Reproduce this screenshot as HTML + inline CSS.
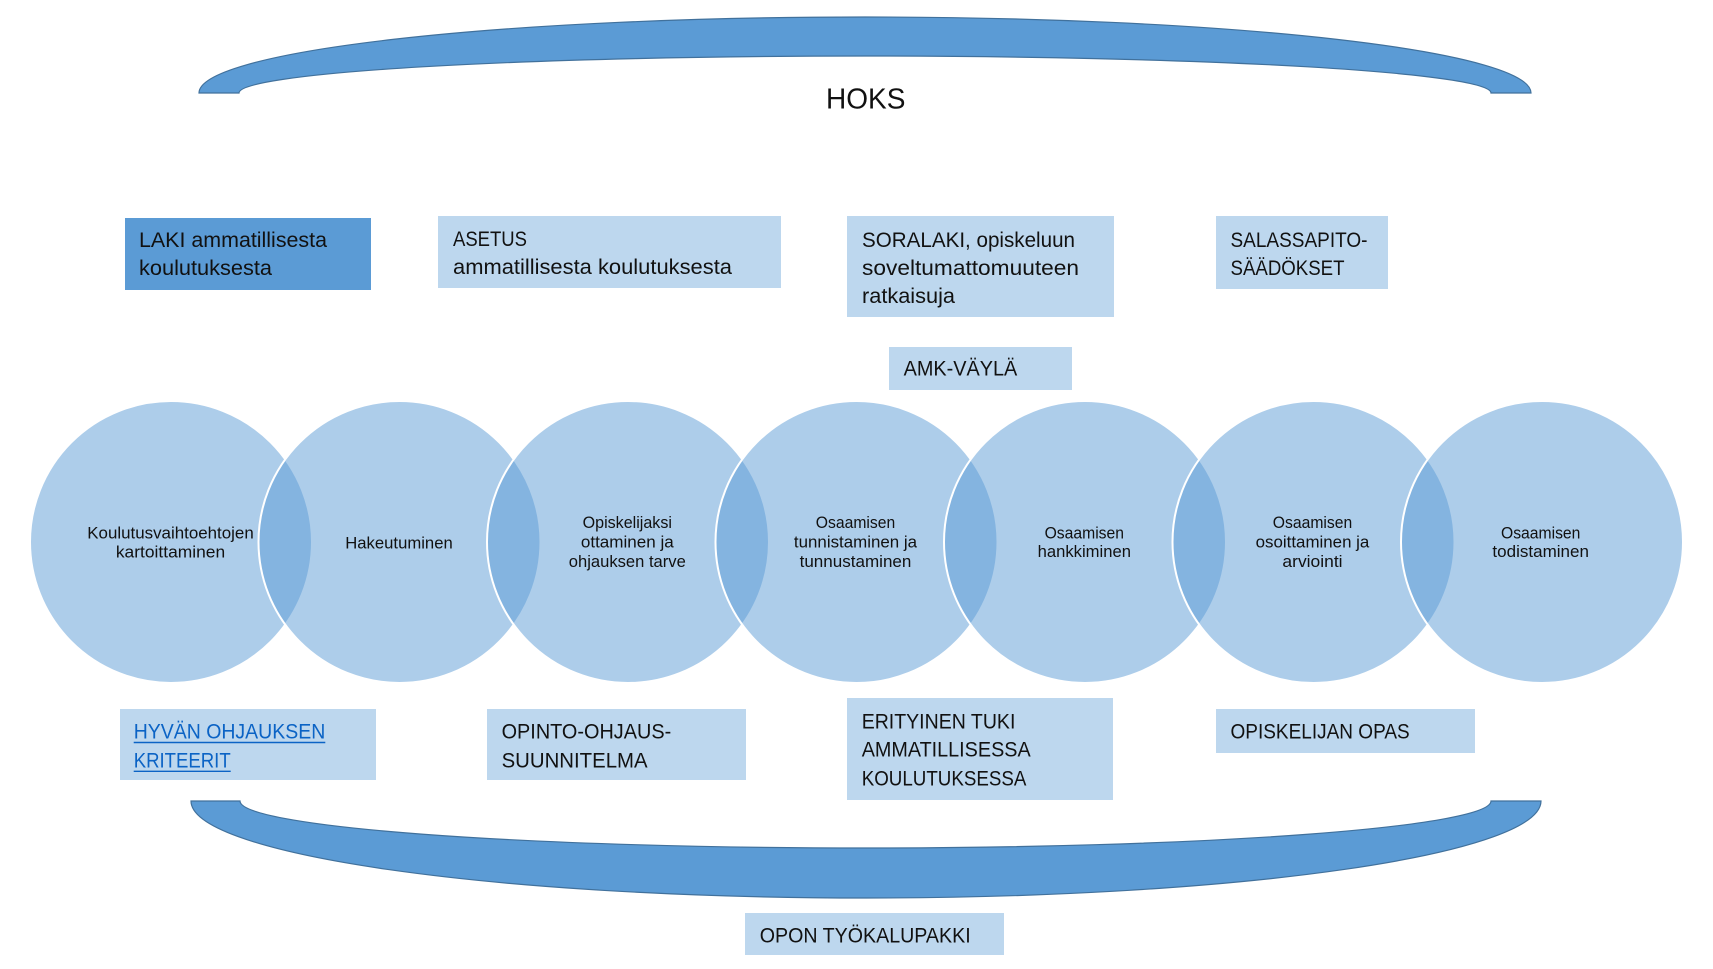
<!DOCTYPE html>
<html>
<head>
<meta charset="utf-8">
<style>
  html,body{margin:0;padding:0;background:#fff;}
  svg{display:block;}
  text{font-family:"Liberation Sans",Arial,sans-serif;fill:#111;}
  .bx{font-size:21.5px;}
  .ct{font-size:16.5px;text-anchor:middle;}
</style>
</head>
<body>
<svg width="1713" height="969" viewBox="0 0 1713 969" xmlns="http://www.w3.org/2000/svg">
  <!-- Top arc -->
  <path d="M199 93 A666 76 0 0 1 1531 93 L1491 93 A626 37 0 0 0 239 93 Z" fill="#5B9BD5" stroke="#41719C" stroke-width="1.2"/>
  <text x="826" y="108.3" style="font-size:28.5px" textLength="79.4" lengthAdjust="spacingAndGlyphs">HOKS</text>

  <!-- Top boxes -->
  <rect x="125" y="218" width="246" height="72" fill="#5B9BD5"/>
  <text class="bx" x="139" y="247" textLength="188" lengthAdjust="spacingAndGlyphs">LAKI ammatillisesta</text>
  <text class="bx" x="139" y="275" textLength="133" lengthAdjust="spacingAndGlyphs">koulutuksesta</text>

  <rect x="438" y="216" width="343" height="72" fill="#BDD7EE"/>
  <text class="bx" x="453" y="246" textLength="74" lengthAdjust="spacingAndGlyphs">ASETUS</text>
  <text class="bx" x="453" y="274" textLength="279" lengthAdjust="spacingAndGlyphs">ammatillisesta koulutuksesta</text>

  <rect x="847" y="216" width="267" height="101" fill="#BDD7EE"/>
  <text class="bx" x="862" y="247" textLength="213" lengthAdjust="spacingAndGlyphs">SORALAKI, opiskeluun</text>
  <text class="bx" x="862" y="275" textLength="217" lengthAdjust="spacingAndGlyphs">soveltumattomuuteen</text>
  <text class="bx" x="862" y="303" textLength="93" lengthAdjust="spacingAndGlyphs">ratkaisuja</text>

  <rect x="1216" y="216" width="172" height="73" fill="#BDD7EE"/>
  <text class="bx" x="1230.5" y="247" textLength="137" lengthAdjust="spacingAndGlyphs">SALASSAPITO-</text>
  <text class="bx" x="1230.5" y="275" textLength="114" lengthAdjust="spacingAndGlyphs">SÄÄDÖKSET</text>

  <rect x="889" y="347" width="183" height="43" fill="#BDD7EE"/>
  <text class="bx" x="903.6" y="375.7" textLength="113.7" lengthAdjust="spacingAndGlyphs">AMK-VÄYLÄ</text>

  <!-- Circles -->
  <g fill="#5B9BD5" fill-opacity="0.5" stroke="#ffffff" stroke-width="2">
    <circle cx="171" cy="542" r="141"/>
    <circle cx="399.5" cy="542" r="141"/>
    <circle cx="628" cy="542" r="141"/>
    <circle cx="856.5" cy="542" r="141"/>
    <circle cx="1085" cy="542" r="141"/>
    <circle cx="1313.5" cy="542" r="141"/>
    <circle cx="1542" cy="542" r="141"/>
  </g>

  <!-- Circle texts -->
  <text class="ct" x="170.5" y="538.7" textLength="166.5" lengthAdjust="spacingAndGlyphs">Koulutusvaihtoehtojen</text>
  <text class="ct" x="170.5" y="557.3" textLength="109.3" lengthAdjust="spacingAndGlyphs">kartoittaminen</text>

  <text class="ct" x="399" y="548.7" textLength="107.5" lengthAdjust="spacingAndGlyphs">Hakeutuminen</text>

  <text class="ct" x="627.3" y="528" textLength="89.3" lengthAdjust="spacingAndGlyphs">Opiskelijaksi</text>
  <text class="ct" x="627.3" y="547.3" textLength="92.9" lengthAdjust="spacingAndGlyphs">ottaminen ja</text>
  <text class="ct" x="627.3" y="567" textLength="117" lengthAdjust="spacingAndGlyphs">ohjauksen tarve</text>

  <text class="ct" x="855.5" y="528" textLength="79.4" lengthAdjust="spacingAndGlyphs">Osaamisen</text>
  <text class="ct" x="855.5" y="547.3" textLength="123.1" lengthAdjust="spacingAndGlyphs">tunnistaminen ja</text>
  <text class="ct" x="855.5" y="567" textLength="111.8" lengthAdjust="spacingAndGlyphs">tunnustaminen</text>

  <text class="ct" x="1084.3" y="538.3" textLength="79.4" lengthAdjust="spacingAndGlyphs">Osaamisen</text>
  <text class="ct" x="1084.3" y="557" textLength="93.3" lengthAdjust="spacingAndGlyphs">hankkiminen</text>

  <text class="ct" x="1312.5" y="528" textLength="79.4" lengthAdjust="spacingAndGlyphs">Osaamisen</text>
  <text class="ct" x="1312.5" y="547.3" textLength="113.7" lengthAdjust="spacingAndGlyphs">osoittaminen ja</text>
  <text class="ct" x="1312.5" y="567" textLength="60.1" lengthAdjust="spacingAndGlyphs">arviointi</text>

  <text class="ct" x="1540.7" y="538.3" textLength="79.4" lengthAdjust="spacingAndGlyphs">Osaamisen</text>
  <text class="ct" x="1540.7" y="557" textLength="96.5" lengthAdjust="spacingAndGlyphs">todistaminen</text>

  <!-- Bottom boxes -->
  <rect x="120" y="709" width="256" height="71" fill="#BDD7EE"/>
  <text class="bx" x="133.7" y="738.7" textLength="191.6" lengthAdjust="spacingAndGlyphs" style="fill:#0B63C5">HYVÄN OHJAUKSEN</text>
  <text class="bx" x="133.7" y="767.7" textLength="97" lengthAdjust="spacingAndGlyphs" style="fill:#0B63C5">KRITEERIT</text>
  <line x1="133.7" y1="742.5" x2="325.3" y2="742.5" stroke="#0B63C5" stroke-width="1.4"/>
  <line x1="133.7" y1="771.3" x2="230.7" y2="771.3" stroke="#0B63C5" stroke-width="1.4"/>

  <rect x="487" y="709" width="259" height="71" fill="#BDD7EE"/>
  <text class="bx" x="501.6" y="738.7" textLength="169.6" lengthAdjust="spacingAndGlyphs">OPINTO-OHJAUS-</text>
  <text class="bx" x="501.6" y="767.7" textLength="146" lengthAdjust="spacingAndGlyphs">SUUNNITELMA</text>

  <rect x="847" y="698" width="266" height="102" fill="#BDD7EE"/>
  <text class="bx" x="861.7" y="728.3" textLength="153.7" lengthAdjust="spacingAndGlyphs">ERITYINEN TUKI</text>
  <text class="bx" x="861.7" y="756.7" textLength="169" lengthAdjust="spacingAndGlyphs">AMMATILLISESSA</text>
  <text class="bx" x="861.7" y="785.3" textLength="164.7" lengthAdjust="spacingAndGlyphs">KOULUTUKSESSA</text>

  <rect x="1216" y="709" width="259" height="44" fill="#BDD7EE"/>
  <text class="bx" x="1230.5" y="738.3" textLength="179.2" lengthAdjust="spacingAndGlyphs">OPISKELIJAN OPAS</text>

  <!-- Bottom arc -->
  <path d="M191 801 A675 97 0 0 0 1541 801 L1491 801 A625.5 47 0 0 1 240 801 Z" fill="#5B9BD5" stroke="#41719C" stroke-width="1.2"/>

  <rect x="745" y="913" width="259" height="42" fill="#BDD7EE"/>
  <text class="bx" x="759.7" y="942.7" textLength="211" lengthAdjust="spacingAndGlyphs">OPON TYÖKALUPAKKI</text>
</svg>
</body>
</html>
